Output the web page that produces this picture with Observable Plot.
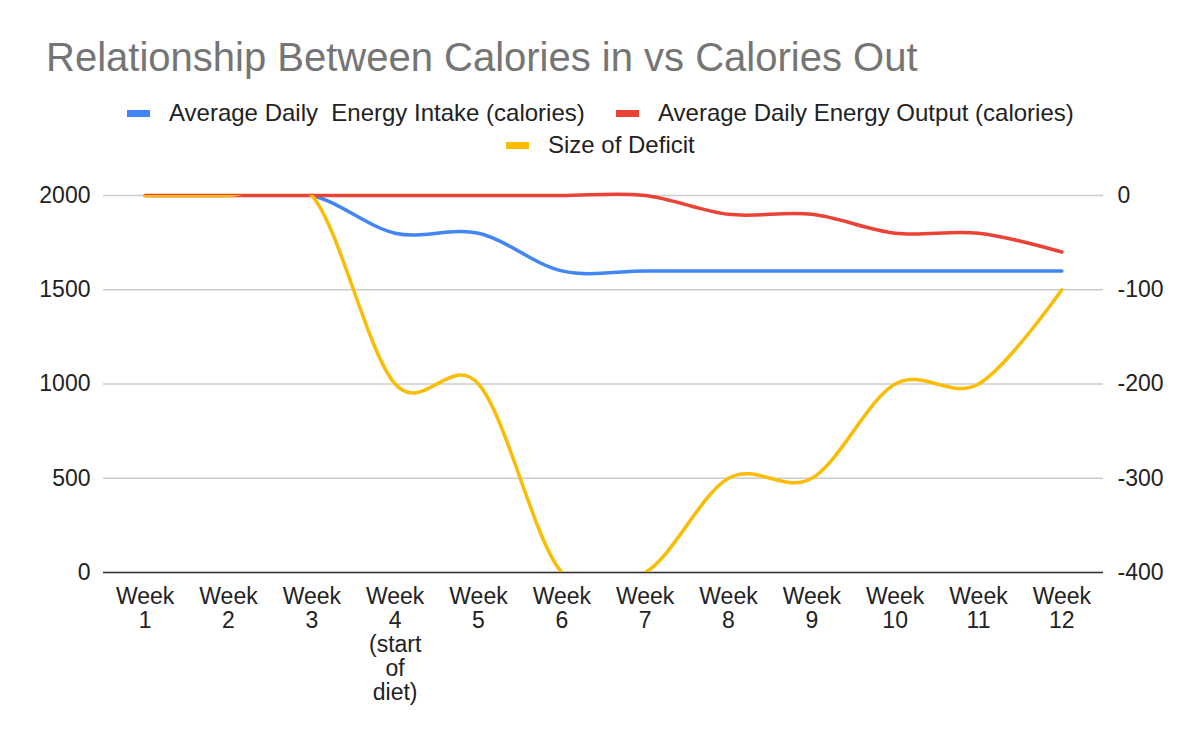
<!DOCTYPE html>
<html>
<head>
<meta charset="utf-8">
<script src="https://cdn.jsdelivr.net/npm/d3@7"></script>
<script src="https://cdn.jsdelivr.net/npm/@observablehq/plot@0.6"></script>
<style>
  html, body { margin: 0; padding: 0; background: #fff; }
  body { width: 1200px; height: 742px; position: relative; overflow: hidden; font-family: Arial, "Liberation Sans", sans-serif; }
  #title { position: absolute; left: 46px; top: 34px; font-size: 40px; line-height: 46px; color: #757575; white-space: nowrap; }
  .leg { position: absolute; font-size: 24px; line-height: 28px; color: #222; white-space: nowrap; display: flex; align-items: center; }
  .sw { display: inline-block; width: 23px; height: 7px; margin-right: 19px; }
  #chart { position: absolute; left: 0; top: 0; }
</style>
</head>
<body>
<div id="chart"></div>
<div id="title">Relationship Between Calories in vs Calories Out</div>
<div id="legend"></div>
<script>
const weeks = ["Week 1","Week 2","Week 3","Week 4","Week 5","Week 6","Week 7","Week 8","Week 9","Week 10","Week 11","Week 12"];
const weekLabels = ["Week\n1","Week\n2","Week\n3","Week\n4\n(start\nof\ndiet)","Week\n5","Week\n6","Week\n7","Week\n8","Week\n9","Week\n10","Week\n11","Week\n12"];
const intake = [2000,2000,2000,1800,1800,1600,1600,1600,1600,1600,1600,1600];
const output = [2000,2000,2000,2000,2000,2000,2000,1900,1900,1800,1800,1700];
const deficit = [0,0,0,-200,-200,-400,-400,-300,-300,-200,-200,-100];
const seriesNames = ["Average Daily  Energy Intake (calories)","Average Daily Energy Output (calories)","Size of Deficit"];
const colors = ["#4285F4","#EA4335","#FBBC04"];
const leftTicks = [0,500,1000,1500,2000];
const rightTicks = [0,-100,-200,-300,-400];

// map right axis (deficit) onto left scale
const toLeft = v => (v + 400) * 5;

const intakeData = weeks.map((w,i) => ({week: w, v: intake[i]}));
const outputData = weeks.map((w,i) => ({week: w, v: output[i]}));
const deficitData = weeks.map((w,i) => ({week: w, v: toLeft(deficit[i])}));
const labelMap = new Map(weeks.map((w,i) => [w, weekLabels[i]]));
const rightMap = new Map(rightTicks.map(t => [toLeft(t), String(t)]));

const lineOpts = {x: "week", y: "v", curve: "cardinal", tension: 0, strokeWidth: 3.5, strokeLinecap: "round", strokeLinejoin: "round"};

const chart = Plot.plot({
  width: 1200,
  height: 742,
  marginTop: 195,
  marginBottom: 170,
  marginLeft: 103,
  marginRight: 97,
  style: {fontFamily: "Arial, 'Liberation Sans', sans-serif", fontSize: "23px", color: "#222", background: "transparent"},
  x: {type: "point", domain: weeks, padding: 0.5, round: false},
  y: {domain: [0, 2000]},
  marks: [
    Plot.gridY(leftTicks, {stroke: "#cccccc", strokeOpacity: 1, strokeWidth: 1.3}),
    Plot.axisY(leftTicks, {anchor: "left", tickSize: 0, tickPadding: 13, fontSize: 23, fill: "#222", label: null, tickFormat: v => String(v)}),
    Plot.axisY(rightTicks.map(toLeft), {anchor: "right", tickSize: 0, tickPadding: 14, fontSize: 23, fill: "#222", label: null, tickFormat: v => rightMap.get(v)}),
    Plot.axisX({tickSize: 0, tickPadding: 15, fontSize: 23, fill: "#222", lineHeight: 1.04, label: null, tickFormat: w => labelMap.get(w)}),
    Plot.ruleY([0], {stroke: "#333", strokeWidth: 1.5}),
    Plot.line(intakeData, {...lineOpts, stroke: colors[0], clip: true}),
    Plot.line(outputData, {...lineOpts, stroke: colors[1]}),
    Plot.line(deficitData, {...lineOpts, stroke: colors[2], clip: true})
  ]
});
document.getElementById("chart").appendChild(chart);

// legend
const legend = document.getElementById("legend");
const positions = [
  {left: 127, top: 99},
  {left: 616, top: 99},
  {left: 506, top: 131}
];
seriesNames.forEach((name, i) => {
  const d = document.createElement("div");
  d.className = "leg";
  d.style.left = positions[i].left + "px";
  d.style.top = positions[i].top + "px";
  const sw = document.createElement("span");
  sw.className = "sw";
  sw.style.background = colors[i];
  d.appendChild(sw);
  const t = document.createElement("span");
  t.textContent = name;
  t.style.whiteSpace = "pre";
  d.appendChild(t);
  legend.appendChild(d);
});
</script>
</body>
</html>
